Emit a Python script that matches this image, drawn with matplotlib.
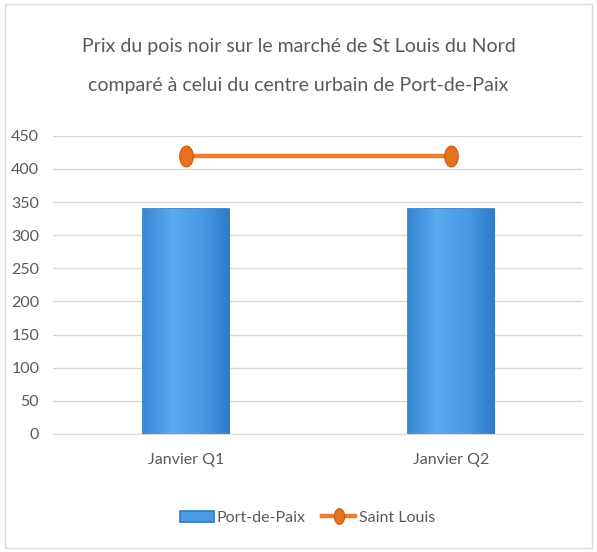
import numpy as np
import matplotlib.pyplot as plt
from matplotlib.path import Path
from matplotlib.patches import Rectangle
from matplotlib.colors import LinearSegmentedColormap

categories = ["Janvier Q1", "Janvier Q2"]
port_de_paix = [340, 340]
saint_louis = [420, 420]

plt.rcParams["font.family"] = ["Lato", "DejaVu Sans"]

grey = "#595959"
fig = plt.figure(figsize=(5.97, 5.52), dpi=100)
ax = fig.add_axes([0.089, 0.214, 0.888, 0.540])

x = np.arange(len(categories))
bars = ax.bar(x, port_de_paix, width=0.325, color="#4A9BE3", edgecolor="#2F78C4",
              linewidth=1.2, label="Port-de-Paix", zorder=2)

# horizontal gradient on the bars
cmap = LinearSegmentedColormap.from_list("b", ["#3A86D4", "#5AAAF0", "#4A9BE3", "#2F7CCB"])
grad = np.linspace(0, 1, 64).reshape(1, -1)
for b in bars:
    bx, by = b.get_x(), b.get_y()
    im = ax.imshow(grad, extent=[bx, bx + b.get_width(), by, by + b.get_height()],
                   cmap=cmap, aspect="auto", zorder=2.1)
    im.set_clip_path(b)

theta = np.linspace(0, 2*np.pi, 40)
oval = Path(np.column_stack([0.65*np.cos(theta), np.sin(theta)]), closed=True)
line, = ax.plot(x, saint_louis, color="#ED7D31", lw=3.2, marker=oval, markersize=15,
                markerfacecolor="#E8711E", markeredgecolor="#C65A12", markeredgewidth=0.8,
                label="Saint Louis", zorder=3)

ax.set_xlim(-0.5, 1.5)
ax.set_ylim(0, 450)
ax.set_yticks(range(0, 451, 50))
ax.set_xticks(x)
ax.set_xticklabels(categories)
ax.grid(axis="y", color="#D9D9D9", lw=1, zorder=0)
for s in ["top", "right", "left"]:
    ax.spines[s].set_visible(False)
ax.spines["bottom"].set_color("#D9D9D9")
ax.tick_params(length=0, labelsize=11.5, colors=grey)
ax.tick_params(axis="y", pad=10)
ax.tick_params(axis="x", pad=14)

fig.text(0.5, 0.915, "Prix du pois noir sur le marché de St Louis du Nord",
         ha="center", va="center", fontsize=14, color=grey)
fig.text(0.5, 0.845, "comparé à celui du centre urbain de Port-de-Paix",
         ha="center", va="center", fontsize=14, color=grey)

leg = fig.legend([bars, line], ["Port-de-Paix", "Saint Louis"], loc="center",
                 bbox_to_anchor=(0.515, 0.062), ncol=2, frameon=False,
                 fontsize=11.5, labelcolor=grey, handlelength=2.1, columnspacing=1.0,
                 handletextpad=0.2, markerscale=0.75)

fig.patches.append(Rectangle((0.008, 0.008), 0.984, 0.984, transform=fig.transFigure,
                             fill=False, edgecolor="#D9D9D9", lw=1))
fig.savefig("out.png", dpi=100)
